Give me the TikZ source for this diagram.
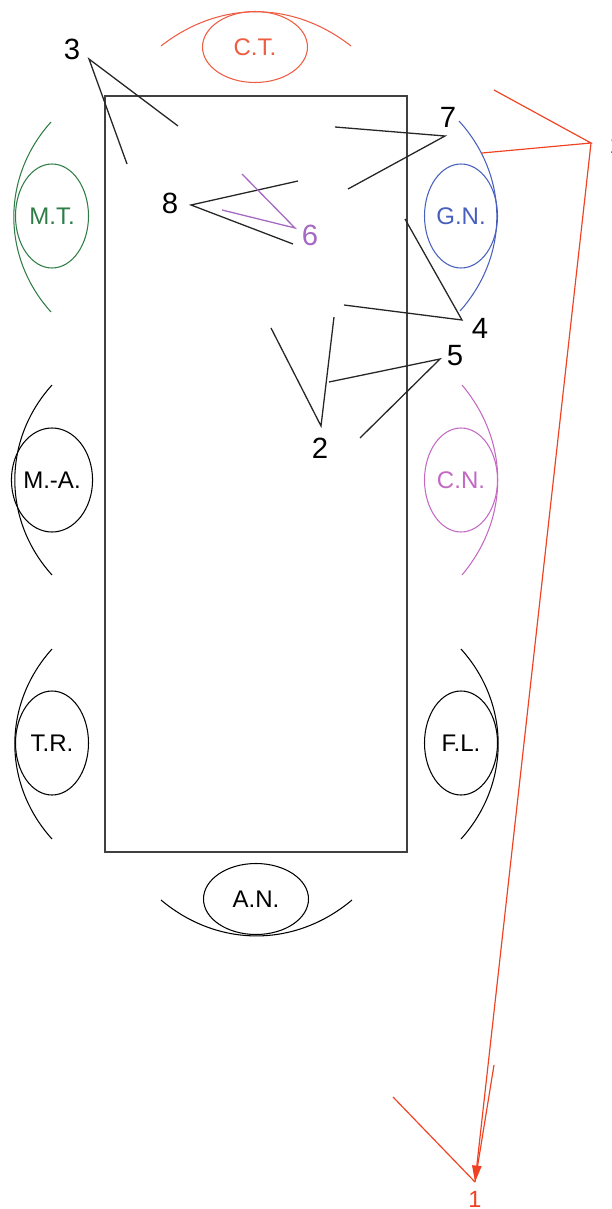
\documentclass[tikz,border=0pt]{standalone}
\usepackage{fontspec}
\setmainfont{Liberation Sans}
\usetikzlibrary{shapes.geometric,arrows.meta}

\definecolor{ctred}{RGB}{238,92,66}
\definecolor{onered}{RGB}{240,66,34}
\definecolor{mtgreen}{RGB}{46,125,70}
\definecolor{gnblue}{RGB}{72,95,190}
\definecolor{cnpink}{RGB}{195,105,195}
\definecolor{sixpurple}{RGB}{165,105,195}

\tikzset{
  region/.style={ellipse, draw, inner sep=0pt, line width=0.9pt, font=\fontsize{20.5}{24}\selectfont},
  sideregion/.style={region, minimum width=2.19cm, minimum height=3.12cm},
  endregion/.style={region, minimum width=3.15cm, minimum height=2.13cm},
  rim/.style={line width=0.9pt},
  num/.style={inner sep=0pt, font=\fontsize{25}{30}\selectfont},
  lead/.style={line width=1.1pt, black!85},
  redlead/.style={line width=1pt, onered}
}

\begin{document}
\begin{tikzpicture}[x=0.03cm, y=-0.03cm]
        \useasboundingbox (0,0) rectangle (611,1209);

        % The table
        \draw[line width=1.2pt, black!75] (105,96) rectangle (407,852);

        % The seats round it
        \node[sideregion, mtgreen] (mt) at (52,216) {M.T.};
        \node[sideregion] (ma) at (52,480) {M.-A.};
        \node[sideregion] (tr) at (52,743) {T.R.};
        \node[sideregion, gnblue] (gn) at (461,216) {G.N.};
        \node[sideregion, cnpink] (cn) at (461,480) {C.N.};
        \node[sideregion] (fl) at (461,743) {F.L.};
        \node[endregion, ctred] (ct) at (255,47) {C.T.};
        \node[endregion] (an) at (256,899) {A.N.};

        % Their rims
        \draw[rim, mtgreen] (51,122) to[bend right=42] (51,312);
        \draw[rim] (52,385) to[bend right=42] (52,575);
        \draw[rim] (52,649) to[bend right=42] (52,839);
        \draw[rim, gnblue] (459,121) to[bend left=42] (460,311);
        \draw[rim, cnpink] (462,385) to[bend left=40] (462,575);
        \draw[rim] (461,649) to[bend left=42] (461,839);
        \draw[rim, ctred] (161,46) to[bend left=38] (351,46);
        \draw[rim] (161,900) to[bend right=40] (352,900);

        % Numbered marks
        \node[num] (l3) at (72,49) {3};
        \node[num] (l8) at (170,203) {8};
        \node[num, sixpurple] (l6) at (310,235) {6};
        \node[num] (l7) at (448,117) {7};
        \node[num] (l4) at (480,328) {4};
        \node[num] (l5) at (455,356) {5};
        \node[num] (l2) at (320,448) {2};

        \coordinate (v3) at (89,59);
        \coordinate (e3a) at (178,126);
        \coordinate (e3b) at (127,164);
        \coordinate (v8) at (191,205);
        \coordinate (e8a) at (298,181);
        \coordinate (e8b) at (293,244);
        \coordinate (v6) at (295,228);
        \coordinate (e6a) at (242,174);
        \coordinate (e6b) at (222,210);
        \coordinate (v7) at (445,136);
        \coordinate (e7a) at (335,127);
        \coordinate (e7b) at (348,189);
        \coordinate (v4) at (462,320);
        \coordinate (e4a) at (405,219);
        \coordinate (e4b) at (344,305);
        \coordinate (v5) at (440,359);
        \coordinate (e5a) at (329,382);
        \coordinate (e5b) at (360,438);
        \coordinate (v2) at (321,426);
        \coordinate (e2a) at (271,328);
        \coordinate (e2b) at (334,317);

        \draw[lead] (e3a) -- (v3) -- (e3b);
        \draw[lead] (e8a) -- (v8) -- (e8b);
        \draw[lead, sixpurple] (e6a) -- (v6) -- (e6b);
        \draw[lead] (e7a) -- (v7) -- (e7b);
        \draw[lead] (e4a) -- (v4) -- (e4b);
        \draw[lead] (e5a) -- (v5) -- (e5b);
        \draw[lead] (e2a) -- (v2) -- (e2b);

        % Mark 1, moved down
        \node[num, onered, font=\fontsize{20}{24}\selectfont] (l1top) at (616,145) {1};
        \node[num, onered, font=\fontsize{20}{24}\selectfont] (l1) at (475,1199) {1};
        \coordinate (v1top) at (591,143);
        \coordinate (v1) at (475,1182);
        \coordinate (e1a) at (494,90);
        \coordinate (e1b) at (482,153);
        \coordinate (e1c) at (393,1097);
        \coordinate (e1d) at (494,1065);

        \draw[redlead] (e1a) -- (v1top) -- (e1b);
        \draw[redlead, -{Triangle[length=14pt, width=8pt]}] (v1top) -- (v1);
        \draw[redlead] (e1c) -- (v1);
        \draw[redlead] (e1d) -- (v1);

    \end{tikzpicture}
\end{document}
